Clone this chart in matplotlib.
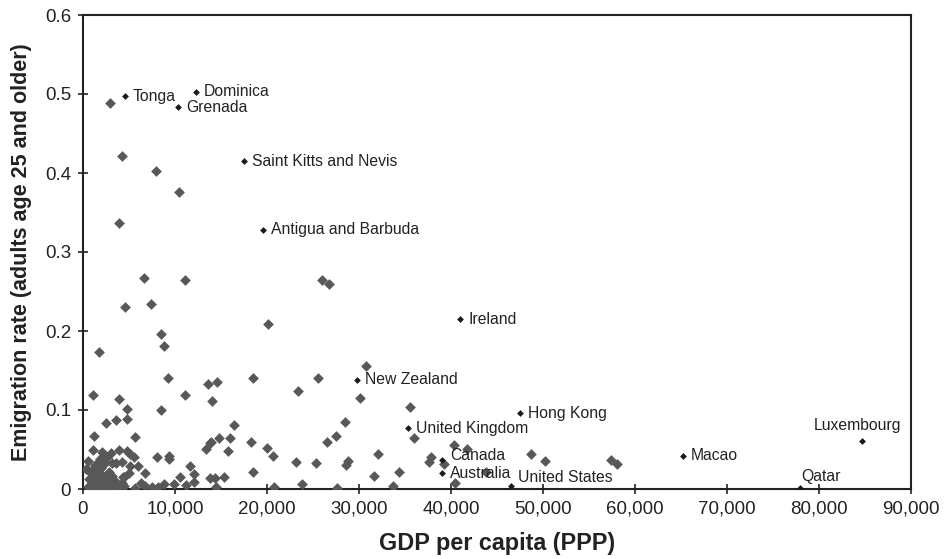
import matplotlib
matplotlib.use("Agg")
import matplotlib.pyplot as plt

plt.rcParams['font.family'] = ['Liberation Sans', 'DejaVu Sans']

# Unlabelled countries: GDP per capita (PPP) and emigration rate
gdp_other = [
    2970, 4240, 7900, 10400, 3910, 6600, 11050, 4600, 7390, 20070, 8480, 8800,
    1740, 9200, 13590, 14565, 18480, 1090, 11050, 14050, 3910, 4780, 8480,
    2465, 3620, 4750, 16450, 1160, 5690, 14820, 15980, 13400, 13840, 13950,
    15730, 18300, 20040, 20620, 18510, 20800, 1090, 2100, 2320, 510, 430,
    3910, 4750, 5140, 5580, 3120, 3620, 4210, 5110, 5950, 8080, 9380, 9380,
    11630, 6700, 4490, 5030, 10540, 12070, 12100, 13770, 14350, 15290, 14420,
    6300, 6740, 5650, 7530, 8120, 8840, 9920, 11200,
    30790, 25580, 23370, 30140, 35510, 28440, 27530, 26550, 36010, 40360,
    41700, 23180, 25330, 28770, 28590, 32070, 37860, 37640, 39240, 43770,
    48730, 50250, 31590, 34310, 23840, 27570, 33700, 40470, 57390, 58040,
    26010, 26700,
    1660, 1300, 330, 1660, 4380,
    500, 800, 1000, 1200, 1400, 1500, 1700, 1800, 2000, 2100, 2300, 2500,
    2600, 2800, 3000, 3100, 3300, 3500, 3800, 4200, 900, 1300, 2000, 2400,
    1800, 2600, 3000, 700, 1100, 1600, 2200, 2700, 4000, 4500,
]
rate_other = [
    0.489, 0.421, 0.403, 0.376, 0.337, 0.267, 0.264, 0.230, 0.234, 0.2085,
    0.196, 0.181, 0.174, 0.141, 0.133, 0.135, 0.140, 0.119, 0.119, 0.112,
    0.1135, 0.101, 0.0996, 0.084, 0.087, 0.088, 0.081, 0.0675, 0.066, 0.0646,
    0.065, 0.0506, 0.058, 0.060, 0.048, 0.060, 0.052, 0.042, 0.022, 0.003,
    0.050, 0.047, 0.043, 0.035, 0.025, 0.049, 0.0485, 0.044, 0.041, 0.0325,
    0.033, 0.034, 0.029, 0.029, 0.0405, 0.042, 0.038, 0.029, 0.020, 0.0148,
    0.020, 0.015, 0.0186, 0.009, 0.0135, 0.0135, 0.015, 0.003, 0.008, 0.004,
    0.001, 0.002, 0.002, 0.006, 0.006, 0.005,
    0.156, 0.141, 0.124, 0.115, 0.104, 0.0844, 0.0675, 0.059, 0.065, 0.0557,
    0.051, 0.0346, 0.0325, 0.036, 0.030, 0.044, 0.0405, 0.034, 0.032, 0.022,
    0.044, 0.035, 0.017, 0.022, 0.0067, 0.0016, 0.004, 0.0076, 0.037, 0.032,
    0.264, 0.259,
    0.0325, 0.030, 0.025, 0.025, 0.0156,
    0.002, 0.005, 0.010, 0.003, 0.015, 0.007, 0.001, 0.012, 0.004, 0.018,
    0.008, 0.002, 0.013, 0.022, 0.006, 0.017, 0.001, 0.010, 0.004, 0.008,
    0.020, 0.028, 0.026, 0.033, 0.038, 0.040, 0.045, 0.013, 0.006, 0.022,
    0.012, 0.005, 0.001, 0.004,
]

# Labelled countries
names = ["Tonga", "Dominica", "Grenada", "Saint Kitts and Nevis",
         "Antigua and Barbuda", "Ireland", "New Zealand", "United Kingdom",
         "Hong Kong", "Canada", "Australia", "United States", "Macao",
         "Qatar", "Luxembourg"]
gdp_named = [4565, 12280, 10330, 17500, 19560, 40980, 29780, 35330, 47500,
             39020, 39020, 46520, 65220, 77930, 84670]
rate_named = [0.497, 0.503, 0.483, 0.415, 0.328, 0.215, 0.138, 0.077, 0.096,
              0.037, 0.020, 0.004, 0.042, 0.001, 0.061]

x_ticks = [0, 10000, 20000, 30000, 40000, 50000, 60000, 70000, 80000, 90000]
x_ticklabels = ["0", "10,000", "20,000", "30,000", "40,000", "50,000",
                "60,000", "70,000", "80,000", "90,000"]
y_ticks = [0, 0.1, 0.2, 0.3, 0.4, 0.5, 0.6]
y_ticklabels = ["0", "0.1", "0.2", "0.3", "0.4", "0.5", "0.6"]

# label offsets in pixels (dx, dy) and alignment
label_style = {
    "Luxembourg": ((-4, 15), "center"),
    "Qatar": ((1, 12), "left"),
    "United States": ((7, 8), "left"),
    "Canada": ((8, 4), "left"),
}

fig = plt.figure(figsize=(9.45, 5.59), dpi=100)
ax = fig.add_axes([83 / 945, 1 - 489 / 559, (911 - 83) / 945, (489 - 15) / 559])

ax.scatter(gdp_other, rate_other, marker="D", s=30, color="#585858",
           linewidths=0, zorder=3)
ax.scatter(gdp_named, rate_named, marker="D", s=12, color="#1a1a1a",
           linewidths=0, zorder=4)

for n, gx, ry in zip(names, gdp_named, rate_named):
    (dx, dy), ha = label_style.get(n, ((8, 0), "left"))
    ax.annotate(n, (gx, ry), xytext=(dx, dy), textcoords="offset pixels",
                ha=ha, va="center", fontsize=11.3, color="#222222")

ax.set_xlim(0, 90000)
ax.set_ylim(0, 0.6)
ax.set_xticks(x_ticks)
ax.set_xticklabels(x_ticklabels)
ax.set_yticks(y_ticks)
ax.set_yticklabels(y_ticklabels)
ax.tick_params(axis="both", direction="inout", length=7, width=1.2,
               labelsize=13.5, colors="#222222", pad=5)
for sp in ax.spines.values():
    sp.set_linewidth(1.5)
    sp.set_color("#222222")

ax.set_xlabel("GDP per capita (PPP)", fontsize=16.8, fontweight="bold",
              labelpad=10, color="#222222")
ax.set_ylabel("Emigration rate (adults age 25 and older)", fontsize=15.5,
              fontweight="bold", labelpad=9, color="#222222")

fig.savefig("out.png", dpi=100)
